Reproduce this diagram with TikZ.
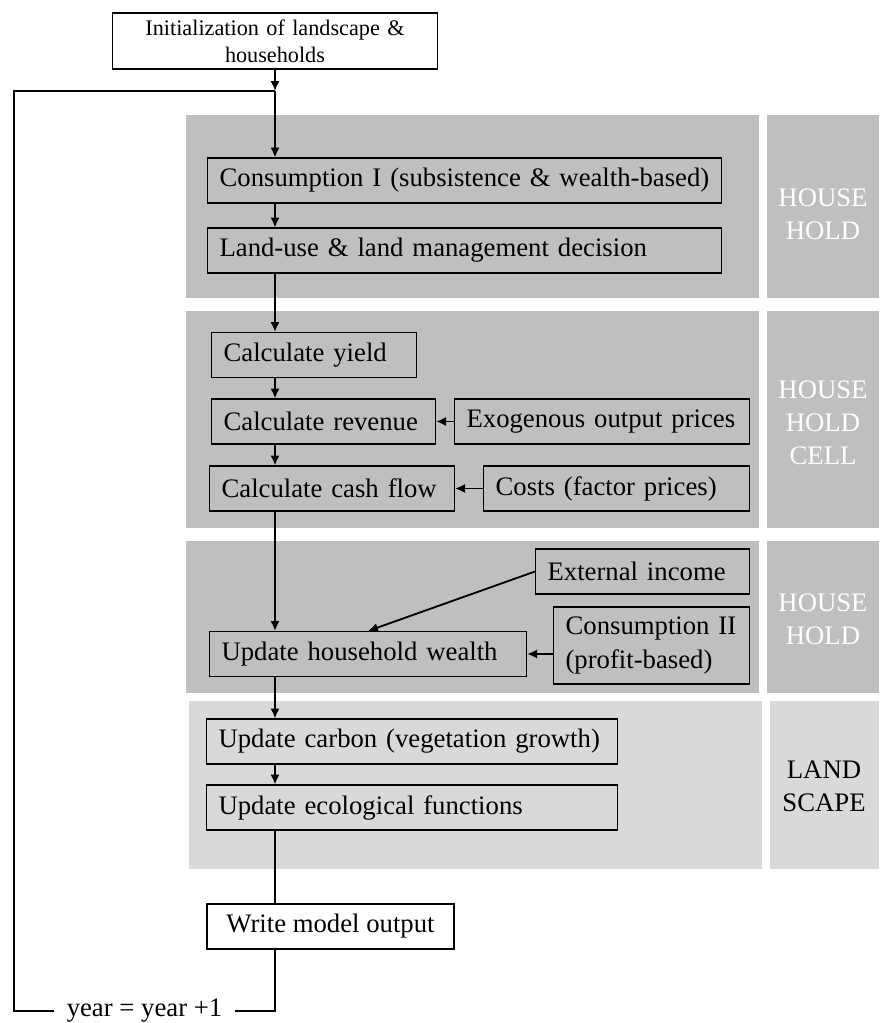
\documentclass[tikz,border=0pt]{standalone}
\usepackage{fontspec}
\setmainfont{Liberation Serif}
\usepackage{tikz}
\usetikzlibrary{arrows,arrows.meta}
\definecolor{panedark}{HTML}{BFBFBF}
\definecolor{panelight}{HTML}{D9D9D9}

\begin{document}
\begin{tikzpicture}[x=0.025cm,y=-0.025cm,
  font=\fontsize{19}{23.5}\selectfont,
  stepbox/.style={draw,line width=0.8pt,anchor=west,align=left,
    inner xsep=0.3cm,inner ysep=0pt,minimum height=1.125cm},
  endbox/.style={draw,fill=white,line width=0.8pt,align=center,
    inner sep=0pt,minimum height=1.125cm},
  tag/.style={align=center,text=white},
  flow/.style={line width=1.3pt},
  >={Latex[length=7pt,width=6.5pt]}]
\useasboundingbox (0,0) rectangle (879,1023);

% panels
\fill[panedark] (186,115) rectangle (759,298);
\fill[panedark] (767,115) rectangle (879,298);
\fill[panedark] (186,311) rectangle (759,528);
\fill[panedark] (767,311) rectangle (879,528);
\fill[panedark] (186,541) rectangle (759,693);
\fill[panedark] (767,541) rectangle (879,693);
\fill[panelight] (189,701) rectangle (762,869);
\fill[panelight] (770,701) rectangle (879,869);

\node[tag] (tagA) at (823,214) {HOUSE\\HOLD};
\node[tag] (tagB) at (823,423) {HOUSE\\HOLD\\CELL};
\node[tag] (tagC) at (823,619) {HOUSE\\HOLD};
\node[tag,text=black] (tagD) at (824,786) {LAND\\SCAPE};

% steps
\node[endbox,minimum width=8.125cm,text width=7.5cm,minimum height=1.4cm,
  font=\fontsize{15.8}{19.2}\selectfont] (init) at (275,41)
  {Initialization of landscape \&\\ households};
\coordinate (jn) at (275,91);
\coordinate (corner) at (14,91);

\node[stepbox,text width=12.25cm] (cons1) at (207,180.5) {Consumption I (subsistence \& wealth-based)};
\node[stepbox,text width=12.25cm] (landuse) at (207,250.5) {Land-use \& land management decision};

\node[stepbox,text width=4.525cm] (yield) at (211,355) {Calculate yield};
\node[stepbox,text width=5cm] (revenue) at (211,421.5) {Calculate revenue};
\node[stepbox,text width=6.775cm] (exo) at (454,421.5) {Exogenous output prices};
\node[stepbox,text width=5.525cm] (cash) at (209,488.5) {Calculate cash flow};
\node[stepbox,text width=6.05cm] (costs) at (483,488.5) {Costs (factor prices)};

\node[stepbox,text width=4.75cm] (extinc) at (535,571.5) {External income};
\node[stepbox,text width=4.3cm,minimum height=1.925cm] (cons2) at (553,645.5) {Consumption II\\(profit-based)};
\node[stepbox,text width=7.325cm] (wealth) at (209,654) {Update household wealth};

\node[stepbox,text width=9.675cm] (carbon) at (206,741.5) {Update carbon (vegetation growth)};
\node[stepbox,text width=9.675cm] (ecol) at (206,807.5) {Update ecological functions};

\node[endbox,minimum width=6.175cm] (write) at (330.5,926.5) {Write model output};
\node[inner xsep=0.3cm] (year) at (144.5,1011) {year = year +1};

% connectors
\draw[flow,->] (init) -- (jn);
\draw[flow,->] (jn) -- (jn |- cons1.north);
\draw[flow,->] (cons1.south -| jn) -- (landuse.north -| jn);
\draw[flow,->] (landuse.south -| jn) -- (yield.north -| jn);
\draw[flow,->] (yield.south -| jn) -- (revenue.north -| jn);
\draw[flow,->] (revenue.south -| jn) -- (cash.north -| jn);
\draw[flow,->] (cash.south -| jn) -- (wealth.north -| jn);
\draw[flow,->] (wealth.south -| jn) -- (carbon.north -| jn);
\draw[flow,->] (carbon.south -| jn) -- (ecol.north -| jn);
\draw[flow] (ecol.south -| jn) -- (write.north -| jn);
\draw[flow] (write.south -| jn) |- (year.east);
\draw[flow] (year.west) -| (corner) -- (jn);

\draw[flow,->] (exo) -- (revenue);
\draw[flow,->] (costs) -- (cash);
\draw[flow,->] (extinc.west) -- (wealth.north);
\draw[flow,->] (cons2.west |- wealth.east) -- (wealth.east);
\end{tikzpicture}
\end{document}
